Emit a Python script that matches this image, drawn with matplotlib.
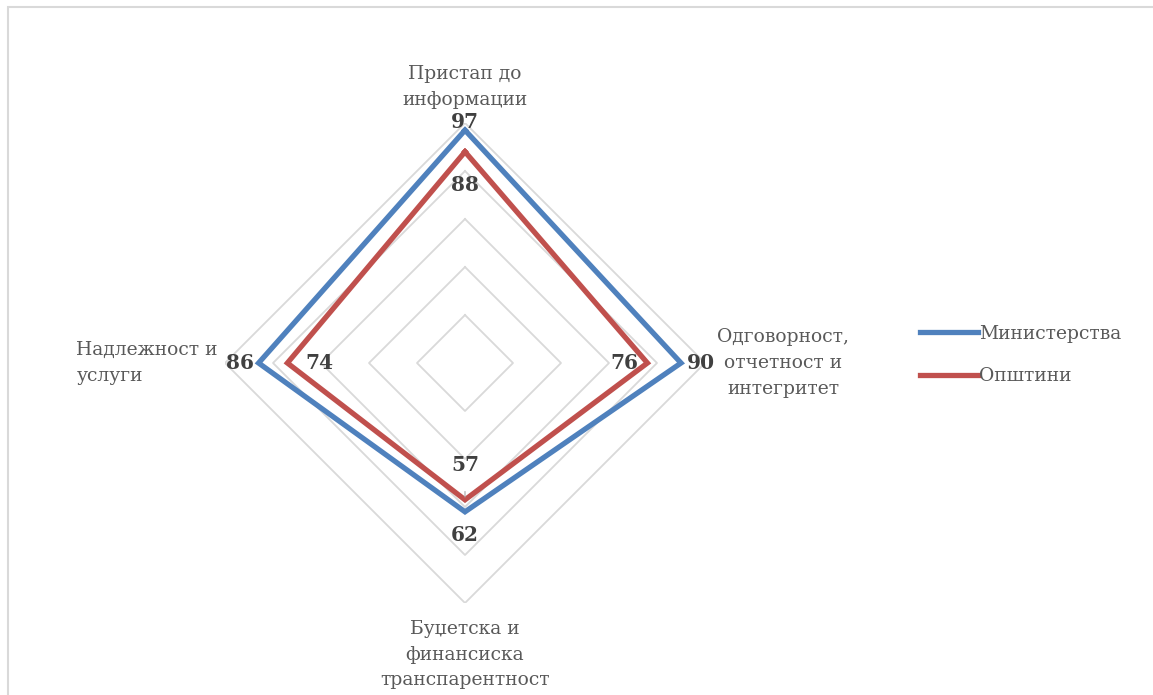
"""
    Radar chart: Министерства vs Општини across four categories.
"""
# Modules:
import numpy as np
import matplotlib.pyplot as plt
from matplotlib.patches import Rectangle

# Data:
categories = ["Пристап до\nинформации",
              "Одговорност,\nотчетност и\nинтегритет",
              "Буџетска и\nфинансиска\nтранспарентност",
              "Надлежност и\nуслуги"]
ministries = [97, 90, 62, 86]
municipalities = [88, 76, 57, 74]
grid_levels = [20, 40, 60, 80, 100]
series_names = ["Министерства", "Општини"]

# Colours:
blue = "#4F81BD"
red = "#C0504D"
grid_col = "#D9D9D9"
text_col = "#595959"
label_col = "#404040"

plt.rcParams['font.family'] = ['DejaVu Serif']

fig = plt.figure(figsize=(11.53, 6.95), dpi=100)

# Border around chart area:
fig.patches.append(Rectangle((8/1153, -0.1), 1.2, 1 - 7/695 + 0.1,
                             transform=fig.transFigure, fill=False,
                             edgecolor=grid_col, linewidth=1.5))

ax = fig.add_axes([225/1153, 92/695, 480/1153, 480/695], polar=True)
ax.set_theta_offset(np.pi/2)
ax.set_theta_direction(-1)
ax.set_ylim(0, 100)
ax.axis('off')

theta = np.linspace(0, 2*np.pi, len(categories), endpoint=False)
theta_closed = np.append(theta, theta[0])

# Grid diamonds:
for g in grid_levels:
    ax.plot(theta_closed, [g]*len(theta_closed), color=grid_col, linewidth=1.3, zorder=1)

def closed(vals):
    return list(vals) + [vals[0]]

ax.plot(theta_closed, closed(ministries), color=blue, linewidth=3.8,
        label=series_names[0], zorder=3, solid_joinstyle='miter')
ax.plot(theta_closed, closed(municipalities), color=red, linewidth=3.8,
        label=series_names[1], zorder=3, solid_joinstyle='miter')

# Category labels:
fs = 13.5
ls = 1.55
ax.text(theta[0], 115, categories[0], ha='center', va='center', fontsize=fs,
        color=text_col, linespacing=ls)
ax.text(theta[1], 105, categories[1], ha='left', va='center', fontsize=fs,
        color=text_col, multialignment='center', linespacing=ls)
ax.text(theta[2], 107, categories[2], ha='center', va='top', fontsize=fs,
        color=text_col, linespacing=ls)
ax.text(theta[3], 103, categories[3], ha='right', va='center', fontsize=fs,
        color=text_col, multialignment='left', linespacing=ls)

# Data labels (offsets in pixels):
blue_offsets = [(0, 8), (20, 0), (0, -23), (-19, 0)]
red_offsets = [(0, -33), (-23, 0), (0, 35), (32, 0)]
for i in range(len(categories)):
    ax.annotate(str(ministries[i]), xy=(theta[i], ministries[i]),
                xytext=blue_offsets[i], textcoords='offset pixels',
                ha='center', va='center', fontsize=14.5, fontweight='bold',
                color=label_col, zorder=4)
    props = None
    if i == 2:
        props = dict(arrowstyle='-', color='#A6A6A6', linewidth=0.8,
                     shrinkA=10, shrinkB=2)
    ax.annotate(str(municipalities[i]), xy=(theta[i], municipalities[i]),
                xytext=red_offsets[i], textcoords='offset pixels',
                ha='center', va='center', fontsize=14.5, fontweight='bold',
                color=label_col, zorder=4, arrowprops=props)

# Legend:
leg = fig.legend(loc='center left', bbox_to_anchor=(903/1153, 1 - 355/695),
                 frameon=False, fontsize=fs, handlelength=3.1,
                 handletextpad=0.05, labelspacing=1.3)
for t in leg.get_texts():
    t.set_color(text_col)

fig.savefig("out.png", dpi=100)
